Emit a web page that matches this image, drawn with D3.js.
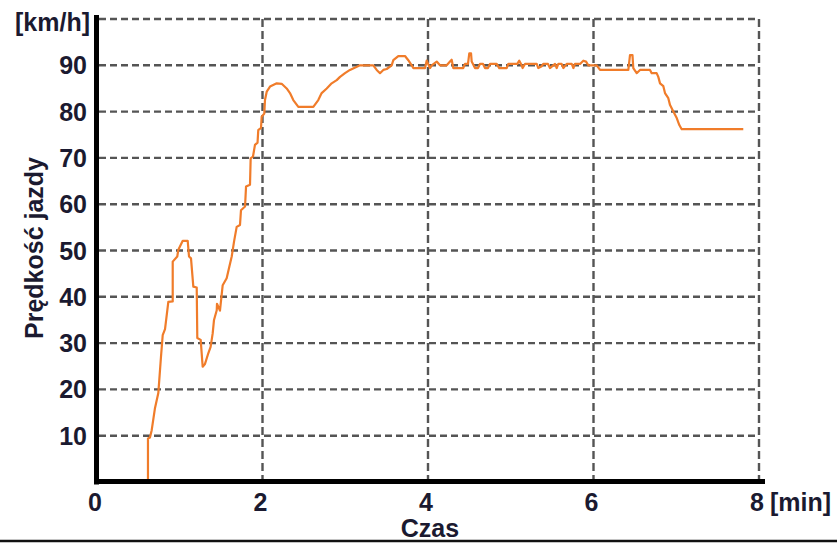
<!DOCTYPE html>
<html>
<head>
<meta charset="utf-8">
<script src="https://cdn.jsdelivr.net/npm/d3@7"></script>
<style>
  html, body { margin: 0; padding: 0; background: #fff; }
  svg { display: block; }
  text { font-family: "Liberation Sans", Arial, sans-serif; font-weight: bold; fill: #1b1a30; }
</style>
</head>
<body>
<svg id="chart" width="837" height="543"></svg>
<script>
// time in minutes
const timeMin = [
  0.616, 0.616, 0.640, 0.661, 0.701, 0.741, 0.773, 0.794, 0.822, 0.862, 0.915, 0.915,
  0.970, 0.982, 1.036, 1.096, 1.112, 1.136, 1.164, 1.205, 1.212, 1.253, 1.277, 1.305,
  1.345, 1.373, 1.398, 1.414, 1.447, 1.450, 1.486, 1.519, 1.567, 1.599, 1.628, 1.656,
  1.688, 1.728, 1.740, 1.789, 1.801, 1.849, 1.857, 1.885, 1.909, 1.940, 1.949, 1.982,
  1.990, 2.022, 2.030, 2.051, 2.091, 2.172, 2.232, 2.292, 2.332, 2.372, 2.433, 2.614,
  2.674, 2.715, 2.776, 2.836, 2.897, 2.937, 2.997, 3.057, 3.178, 3.339, 3.380, 3.420,
  3.460, 3.501, 3.561, 3.581, 3.641, 3.722, 3.762, 3.803, 3.822, 3.964, 3.984, 4.024,
  4.045, 4.105, 4.145, 4.226, 4.266, 4.286, 4.306, 4.426, 4.447, 4.483, 4.499, 4.520,
  4.528, 4.568, 4.604, 4.628, 4.665, 4.689, 4.725, 4.749, 4.830, 4.861, 4.951, 4.970,
  5.079, 5.103, 5.124, 5.144, 5.172, 5.314, 5.333, 5.374, 5.393, 5.450, 5.474, 5.535,
  5.555, 5.575, 5.615, 5.636, 5.676, 5.737, 5.757, 5.776, 5.837, 5.877, 5.910, 5.937,
  6.039, 6.079, 6.421, 6.441, 6.471, 6.481, 6.522, 6.562, 6.683, 6.703, 6.763, 6.783,
  6.804, 6.844, 6.864, 6.904, 6.925, 6.965, 7.006, 7.037, 7.066, 7.810
];
// speed in km/h
const speedKmh = [
  0, 9.4, 9.6, 11.2, 16, 19.2, 27, 31.7, 33, 38.9, 39, 47.6,
  48.7, 50.1, 52.1, 52.1, 48.7, 48.3, 42.2, 42, 31.1, 30.7, 24.9, 25.5,
  27.8, 29.2, 32.1, 35, 37.1, 38.5, 37, 42.5, 44, 46.5, 48.7, 51.9,
  55.1, 55.5, 58.7, 59.5, 63.8, 64.2, 69.9, 70.3, 72.8, 73.3, 76, 76.5,
  78.9, 79.6, 82.5, 84.3, 85.4, 86.1, 86, 85, 84, 82.5, 81, 81,
  82.5, 84, 85, 86.1, 86.8, 87.5, 88.3, 89, 90, 90, 89, 88.3,
  89, 89.2, 90, 91.1, 92, 92, 91.1, 90, 89.4, 89.4, 91, 89.4,
  90, 90.8, 90, 90, 90.8, 91.2, 89.4, 89.4, 90.3, 90.3, 92.6, 92.6,
  90.8, 89.4, 89.4, 90.3, 90.3, 89.4, 89.4, 90.3, 90.3, 89.4, 89.4, 90.3,
  90.3, 91, 90.3, 89.4, 90.3, 90.3, 89.4, 89.8, 90.3, 90.3, 89.4, 90.3,
  89.4, 90.3, 90.3, 89.4, 90.3, 90.3, 89.4, 90.3, 90.3, 91, 90.8, 90,
  90, 89, 89, 92.2, 92.2, 89.4, 88.3, 89, 89, 88.3, 88.3, 87.5,
  86.1, 85.5, 84, 82.9, 81.4, 80, 78.6, 77.1, 76.2, 76.2
];
const xTicks = [0, 2, 4, 6, 8];
const yTicks = [10, 20, 30, 40, 50, 60, 70, 80, 90];
const xUnit = "[min]";
const yUnit = "[km/h]";
const xTitle = "Czas";
const yTitle = "Prędkość jazdy";

const svg = d3.select("#chart");
const x = d3.scaleLinear().domain([0, 8]).range([97, 759]);
const y = d3.scaleLinear().domain([0, 100]).range([482, 19]);

const gridColor = "#555";
const dash = "7,4";

// horizontal grid (incl. top at 100)
svg.append("g").selectAll("line")
  .data(yTicks.concat([100]))
  .join("line")
  .attr("x1", x(0) + 2).attr("x2", x(8))
  .attr("y1", d => y(d)).attr("y2", d => y(d))
  .attr("stroke", gridColor).attr("stroke-width", 2.4)
  .attr("stroke-dasharray", dash);

// vertical grid
svg.append("g").selectAll("line")
  .data(xTicks.filter(d => d > 0))
  .join("line")
  .attr("x1", d => x(d)).attr("x2", d => x(d))
  .attr("y1", y(100)).attr("y2", y(0))
  .attr("stroke", gridColor).attr("stroke-width", 2.4)
  .attr("stroke-dasharray", "8,4");

// data line
const pts = timeMin.map((t, i) => [t, speedKmh[i]]);
svg.append("path")
  .datum(pts)
  .attr("fill", "none")
  .attr("stroke", "#f07c2a")
  .attr("stroke-width", 2.2)
  .attr("stroke-linejoin", "round")
  .attr("d", d3.line().x(d => x(d[0])).y(d => y(d[1])));

// axes (thick black)
svg.append("line").attr("x1", 96.5).attr("x2", 96.5).attr("y1", 15).attr("y2", 484.5)
  .attr("stroke", "#000").attr("stroke-width", 5);
svg.append("line").attr("x1", 94).attr("x2", 765).attr("y1", 481.5).attr("y2", 481.5)
  .attr("stroke", "#000").attr("stroke-width", 5);

// y tick labels
svg.append("g").selectAll("text")
  .data(yTicks)
  .join("text")
  .attr("x", 87).attr("y", d => y(d) + 9)
  .attr("text-anchor", "end")
  .attr("font-size", 25)
  .text(d => d);

// x tick labels
svg.append("g").selectAll("text")
  .data(xTicks)
  .join("text")
  .attr("x", d => x(d) - 2).attr("y", 511)
  .attr("text-anchor", "middle")
  .attr("font-size", 25)
  .text(d => d);

// units
svg.append("text").attr("x", 90).attr("y", 31).attr("text-anchor", "end")
  .attr("font-size", 25).text(yUnit);
svg.append("text").attr("x", 770).attr("y", 511).attr("text-anchor", "start")
  .attr("font-size", 25).text(xUnit);

// titles
svg.append("text").attr("x", 430).attr("y", 537).attr("text-anchor", "middle")
  .attr("font-size", 25).text(xTitle);
svg.append("text")
  .attr("transform", "translate(43,248) rotate(-90)")
  .attr("text-anchor", "middle")
  .attr("font-size", 25).text(yTitle);

// bottom border line
svg.append("line").attr("x1", 0).attr("x2", 837).attr("y1", 541).attr("y2", 541)
  .attr("stroke", "#111").attr("stroke-width", 2.5);
</script>
</body>
</html>
